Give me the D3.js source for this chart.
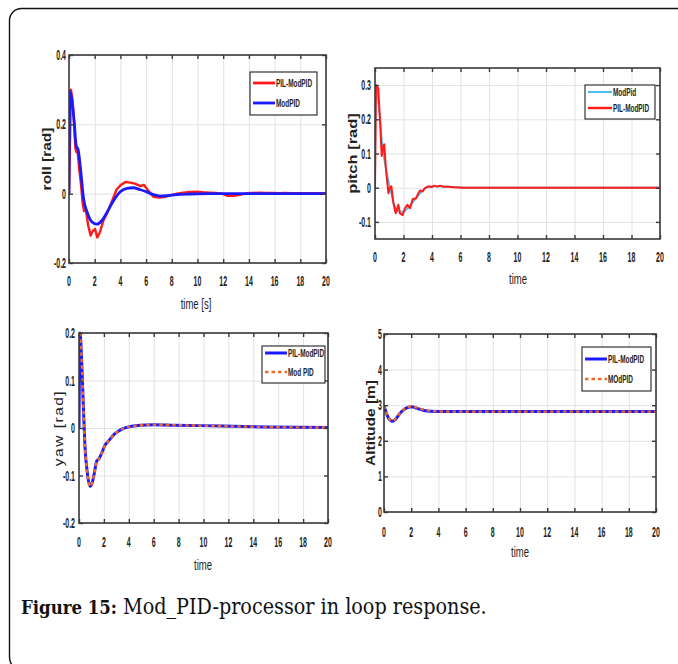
<!DOCTYPE html>
<html>
<head>
<meta charset="utf-8">
<script src="https://cdn.jsdelivr.net/npm/d3@7"></script>
<style>
  html, body { margin: 0; padding: 0; background: #fff; }
  svg { display: block; }
</style>
</head>
<body>
<svg id="fig" width="678" height="664"></svg>
<script>
// ---------- data ----------
const timeTicks = [0, 2, 4, 6, 8, 10, 12, 14, 16, 18, 20];

// roll response
const rollYTicks = [-0.2, 0, 0.2, 0.4];
const rollPilT = [0, 0.15, 0.28, 0.4, 0.5, 0.58, 0.66, 0.8, 0.95, 1.06, 1.17, 1.3, 1.5, 1.69, 1.84, 2.03, 2.2, 2.4, 2.67, 2.98, 3.3, 3.7, 4.0, 4.42, 4.75, 5.14, 5.53, 5.84, 6.18, 6.57, 7.04, 7.48, 7.87, 8.4, 8.9, 9.4, 9.9, 10.4, 10.9, 11.4, 11.9, 12.3, 12.8, 13.3, 13.8, 14.3, 14.8, 15.3, 15.8, 16.3, 16.8, 17.3, 17.8, 18.3, 18.8, 19.3, 20];
const rollPilV = [0, 0.3, 0.27, 0.2, 0.13, 0.12, 0.125, 0.07, 0.02, -0.026, -0.05, -0.045, -0.093, -0.121, -0.108, -0.102, -0.126, -0.112, -0.078, -0.055, -0.026, 0.012, 0.024, 0.034, 0.032, 0.029, 0.022, 0.025, 0.008, -0.009, -0.011, -0.009, -0.005, 0, 0.003, 0.005, 0.006, 0.004, 0.003, 0.002, 0, -0.006, -0.006, -0.003, 0.001, 0.002, 0.003, 0.002, 0.002, 0.001, 0.002, 0.001, 0.001, 0.001, 0.001, 0.001, 0.001];
const rollModT = [0, 0.08, 0.25, 0.4, 0.55, 0.72, 0.93, 1.12, 1.43, 1.77, 2.16, 2.55, 2.94, 3.45, 3.97, 4.5, 5.0, 5.5, 6.05, 6.57, 7.1, 7.87, 8.65, 9.5, 11, 20];
const rollModV = [0, 0.295, 0.26, 0.21, 0.14, 0.125, 0.06, -0.011, -0.055, -0.081, -0.088, -0.078, -0.055, -0.021, 0.005, 0.015, 0.017, 0.012, 0.005, -0.003, -0.007, -0.005, -0.002, -0.001, 0, 0];

// pitch response
const pitchYTicks = [-0.1, 0, 0.1, 0.2, 0.3];
const pitchModT = [0, 0.07, 0.35, 0.55, 0.75, 1.05, 1.35, 1.7, 2.0, 2.4, 2.8, 3.2, 3.6, 4.2, 4.8, 5.5, 6.5, 20];
const pitchModV = [0, 0.3, 0.2, 0.11, 0.06, 0, -0.05, -0.07, -0.07, -0.055, -0.035, -0.015, 0, 0.004, 0.004, 0.002, 0, 0];
const pitchPilT = [0, 0.07, 0.23, 0.35, 0.47, 0.58, 0.65, 0.77, 0.94, 1.05, 1.15, 1.29, 1.45, 1.64, 1.75, 1.94, 2.1, 2.27, 2.46, 2.64, 2.88, 3.04, 3.16, 3.35, 3.5, 3.74, 3.98, 4.16, 4.37, 4.56, 4.8, 5.15, 5.5, 6.2, 20];
const pitchPilV = [0, 0.3, 0.29, 0.2, 0.093, 0.122, 0.127, 0.053, -0.016, 0, 0.004, -0.045, -0.075, -0.05, -0.075, -0.08, -0.06, -0.05, -0.06, -0.034, -0.031, -0.016, -0.008, -0.011, -0.001, 0.004, 0.002, 0.006, 0.003, 0.006, 0.003, 0.003, 0.001, 0, 0];

// yaw response
const yawYTicks = [-0.2, -0.1, 0, 0.1, 0.2];
const yawPilT = [0, 0.08, 0.21, 0.35, 0.48, 0.67, 0.88, 1.05, 1.23, 1.42, 1.6, 1.82, 2.12, 2.36, 2.76, 3.16, 3.57, 4.1, 4.9, 6.0, 7.6, 9.7, 12.4, 15.1, 20];
const yawPilV = [0, 0.2, 0.144, 0.046, -0.039, -0.095, -0.123, -0.116, -0.095, -0.07, -0.065, -0.053, -0.035, -0.028, -0.015, -0.007, -0.001, 0.003, 0.0056, 0.007, 0.006, 0.005, 0.0035, 0.002, 0.001];
const yawModT = [0.08, 0.21, 0.35, 0.48, 0.67, 0.88, 1.05, 1.23, 1.42, 1.6, 1.82, 2.12, 2.36, 2.76, 3.16, 3.57, 4.1, 4.9, 6.0, 7.6, 9.7, 12.4, 15.1, 20];
const yawModV = [0.2, 0.144, 0.046, -0.039, -0.095, -0.123, -0.116, -0.095, -0.07, -0.065, -0.053, -0.035, -0.028, -0.015, -0.007, -0.001, 0.003, 0.0056, 0.007, 0.006, 0.005, 0.0035, 0.002, 0.001];

// altitude response
const altYTicks = [0, 1, 2, 3, 4, 5];
const altPilT = [0, 0.22, 0.42, 0.61, 0.86, 1.15, 1.52, 1.89, 2.14, 2.43, 2.87, 3.37, 4.6, 20];
const altPilV = [2.99, 2.73, 2.59, 2.55, 2.61, 2.76, 2.89, 2.95, 2.95, 2.91, 2.86, 2.83, 2.82, 2.82];
const altModT = [0, 0.22, 0.42, 0.61, 0.86, 1.15, 1.52, 1.89, 2.14, 2.43, 2.87, 3.37, 4.6, 20];
const altModV = [2.99, 2.74, 2.6, 2.56, 2.62, 2.77, 2.9, 2.96, 2.96, 2.93, 2.88, 2.84, 2.82, 2.82];

const captionBold = "Figure 15:";
const captionText = "Mod_PID-processor in loop response.";

// ---------- drawing ----------
const svg = d3.select("#fig");
const narrow = "'Liberation Sans', Arial, sans-serif";
const SX = 0.5; // horizontal squeeze of the plot lettering

// outer frame with rounded left corners
svg.append("rect")
  .attr("x", 9.5).attr("y", 8.5).attr("width", 720).attr("height", 661)
  .attr("rx", 12).attr("fill", "none").attr("stroke", "#111").attr("stroke-width", 1.4);

const fmt = d => String(+d.toFixed(2));

function squeezedText(parent, x, y, str, o) {
  const g = parent.append("g").attr("transform", `translate(${x},${y}) scale(${o.sx || SX},1)`);
  return g.append("text")
    .attr("text-anchor", o.anchor || "start")
    .attr("font-family", narrow)
    .attr("font-size", o.size || 12)
    .attr("font-weight", o.weight || "bold")
    .attr("fill", o.fill || "#222")
    .text(str);
}

function panel(cfg) {
  const x = d3.scaleLinear().domain([0, 20]).range([cfg.left, cfg.right]);
  const y = d3.scaleLinear().domain(cfg.yDomain).range([cfg.bottom, cfg.top]);
  const g = svg.append("g");
  const w = cfg.right - cfg.left, h = cfg.bottom - cfg.top;

  // grid
  const gx = g.append("g").attr("transform", `translate(0,${cfg.bottom})`)
    .call(d3.axisBottom(x).tickValues(timeTicks).tickSize(-h).tickFormat(""));
  const gy = g.append("g").attr("transform", `translate(${cfg.left},0)`)
    .call(d3.axisLeft(y).tickValues(cfg.yTicks).tickSize(-w).tickFormat(""));
  [gx, gy].forEach(s => {
    s.select(".domain").remove();
    s.selectAll("line").attr("stroke", "#e2e2e2").attr("stroke-width", 1);
  });

  // series
  const clipId = "clip" + cfg.id;
  svg.append("clipPath").attr("id", clipId).append("rect")
    .attr("x", cfg.left).attr("y", cfg.top - 2).attr("width", w).attr("height", h + 4);
  cfg.series.forEach(s => {
    const pts = s.t.map((t, i) => [t, s.v[i]]);
    const line = d3.line().x(d => x(d[0])).y(d => y(d[1]))
      .curve(s.smooth ? d3.curveMonotoneX : d3.curveLinear);
    g.append("path").datum(pts)
      .attr("clip-path", `url(#${clipId})`)
      .attr("d", line)
      .attr("fill", "none")
      .attr("stroke", s.color)
      .attr("stroke-width", s.width)
      .attr("stroke-dasharray", s.dash || null)
      .attr("stroke-linejoin", "round");
  });

  // box and inward ticks on all sides
  g.append("rect").attr("x", cfg.left).attr("y", cfg.top).attr("width", w).attr("height", h)
    .attr("fill", "none").attr("stroke", "#3a3a3a").attr("stroke-width", 1.6);
  const tk = [
    [d3.axisBottom(x).tickValues(timeTicks), `translate(0,${cfg.bottom})`],
    [d3.axisTop(x).tickValues(timeTicks), `translate(0,${cfg.top})`],
    [d3.axisLeft(y).tickValues(cfg.yTicks), `translate(${cfg.left},0)`],
    [d3.axisRight(y).tickValues(cfg.yTicks), `translate(${cfg.right},0)`]
  ];
  tk.forEach(([ax, tr]) => {
    const s = g.append("g").attr("transform", tr).call(ax.tickSize(-4).tickFormat(""));
    s.select(".domain").remove();
    s.selectAll("line").attr("stroke", "#3a3a3a").attr("stroke-width", 1.4);
  });

  // tick labels
  timeTicks.forEach(t => squeezedText(g, x(t), cfg.bottom + cfg.xLabOff, fmt(t), { anchor: "middle", size: 14 }));
  cfg.yTicks.forEach(v => squeezedText(g, cfg.left - cfg.yLabGap, y(v) + 5, fmt(v), { anchor: "end", size: 14 }));

  // axis titles
  squeezedText(g, cfg.xTitle[0], cfg.xTitle[1], cfg.xlabel, { anchor: "middle", size: 14, weight: "normal", sx: 0.68 });
  g.append("g").attr("transform", `translate(${cfg.yTitleX},${(cfg.top + cfg.bottom) / 2}) rotate(-90) scale(1,0.8)`)
    .append("text").attr("text-anchor", "middle")
    .attr("font-family", narrow).attr("font-weight", cfg.yTitleWeight || "bold")
    .attr("font-size", cfg.yTitleSize).attr("fill", "#222")
    .attr("letter-spacing", cfg.yTitleSpacing || 0)
    .text(cfg.ylabel);

  // legend
  const L = cfg.legend;
  g.append("rect").attr("x", L.x).attr("y", L.y).attr("width", L.w).attr("height", L.h)
    .attr("fill", "#fff").attr("stroke", "#222").attr("stroke-width", 1.1);
  L.items.forEach((it, i) => {
    const yy = L.rows[i];
    g.append("line").attr("x1", L.x + 3).attr("x2", L.x + L.lineLen).attr("y1", yy).attr("y2", yy)
      .attr("stroke", it.color).attr("stroke-width", it.width).attr("stroke-dasharray", it.dash || null);
    squeezedText(g, L.x + L.lineLen + 1, yy + 4, it.label, { size: 11.5, weight: "bold", sx: 0.56 });
  });
}

const RED = "#ff1a1a", BLUE = "#1a1aff", LBLUE = "#4dbeee", ORANGE = "#ee6a2a";

panel({
  id: "roll", left: 69, right: 326, top: 55, bottom: 263,
  yDomain: [-0.2, 0.4], yTicks: rollYTicks, ylabel: "roll [rad]", yTitleX: 51, yTitleSize: 15.5,
  xlabel: "time [s]", xTitle: [196, 309], xLabOff: 23, yLabGap: 3,
  series: [
    { t: rollPilT, v: rollPilV, color: RED, width: 2.4 },
    { t: rollModT, v: rollModV, color: BLUE, width: 2.8, smooth: true }
  ],
  legend: { x: 250, y: 72, w: 67, h: 43, lineLen: 25, rows: [83, 103],
    items: [{ label: "PIL-ModPID", color: RED, width: 2.8 }, { label: "ModPID", color: BLUE, width: 2.8 }] }
});

panel({
  id: "pitch", left: 375, right: 660, top: 68, bottom: 239,
  yDomain: [-0.15, 0.35], yTicks: pitchYTicks, ylabel: "pitch [rad]", yTitleX: 357, yTitleSize: 16.5,
  xlabel: "time", xTitle: [518, 284], xLabOff: 23, yLabGap: 4,
  series: [
    { t: pitchModT, v: pitchModV, color: LBLUE, width: 1.8, smooth: true },
    { t: pitchPilT, v: pitchPilV, color: RED, width: 2.0 }
  ],
  legend: { x: 585, y: 85, w: 70, h: 34, lineLen: 27, rows: [92, 108],
    items: [{ label: "ModPid", color: LBLUE, width: 2 }, { label: "PIL-ModPID", color: RED, width: 2.4 }] }
});

panel({
  id: "yaw", left: 79, right: 328, top: 333, bottom: 523,
  yDomain: [-0.2, 0.2], yTicks: yawYTicks, ylabel: "yaw [rad]", yTitleX: 63, yTitleSize: 15.5,
  yTitleWeight: "normal", yTitleSpacing: 1.5,
  xlabel: "time", xTitle: [203, 570], xLabOff: 24, yLabGap: 4,
  series: [
    { t: yawPilT, v: yawPilV, color: BLUE, width: 3, smooth: true },
    { t: yawModT, v: yawModV, color: ORANGE, width: 2.4, dash: "3.5,3", smooth: true }
  ],
  legend: { x: 262, y: 346, w: 63, h: 37, lineLen: 25, rows: [353, 372],
    items: [{ label: "PIL-ModPID", color: BLUE, width: 3 }, { label: "Mod PID", color: ORANGE, width: 2.6, dash: "3.5,3" }] }
});

panel({
  id: "alt", left: 384, right: 656, top: 334, bottom: 512,
  yDomain: [0, 5], yTicks: altYTicks, ylabel: "Altitude [m]", yTitleX: 375, yTitleSize: 15.5,
  xlabel: "time", xTitle: [520, 557], xLabOff: 25, yLabGap: 2,
  series: [
    { t: altPilT, v: altPilV, color: BLUE, width: 3, smooth: true },
    { t: altModT, v: altModV, color: ORANGE, width: 2.4, dash: "3.5,3", smooth: true }
  ],
  legend: { x: 582, y: 347, w: 69, h: 44, lineLen: 25, rows: [359, 379],
    items: [{ label: "PIL-ModPID", color: BLUE, width: 3 }, { label: "MOdPID", color: ORANGE, width: 2.6, dash: "3.5,3" }] }
});

// caption
const serif = "'DejaVu Serif Condensed', 'DejaVu Serif', 'Liberation Serif', serif";
const capB = svg.append("text").attr("x", 21).attr("y", 614)
  .attr("font-family", serif).attr("font-weight", "bold").attr("font-size", 17)
  .attr("fill", "#111").text(captionBold);
const capR = svg.append("text").attr("x", 123).attr("y", 614)
  .attr("font-family", serif).attr("font-size", 17).attr("fill", "#111").text(captionText);
// fit the caption runs to their measured widths
const fit = (sel, target) => {
  const len = sel.node().getComputedTextLength();
  sel.attr("font-size", 17 * target / len);
};
fit(capB, 96);
fit(capR, 364);
</script>
</body>
</html>
